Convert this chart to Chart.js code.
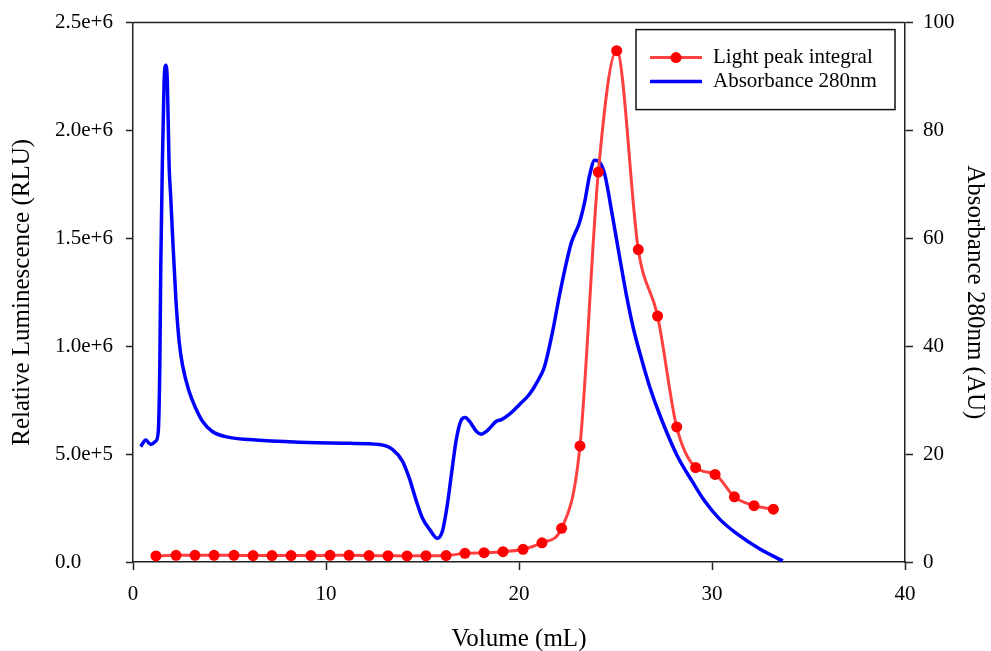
<!DOCTYPE html>
<html><head><meta charset="utf-8">
<script src="https://cdn.jsdelivr.net/npm/chart.js@4.4.0/dist/chart.umd.min.js"></script>
<style>html,body{margin:0;padding:0;background:#fff}#wrap{width:991px;height:651px}</style>
</head><body><div id="wrap"><canvas id="c" width="991" height="651"></canvas></div>
<script>
// Light peak integral (left axis, RLU)
const lightVolume = [1.19,2.23,3.21,4.20,5.23,6.22,7.20,8.19,9.22,10.21,11.19,12.23,13.21,14.20,15.18,16.22,17.20,18.19,19.17,20.21,21.19,22.21,23.16,24.11,25.06,26.18,27.18,28.17,29.15,30.16,31.16,32.18,33.18];
const lightRLU = [28000,31000,31000,31000,31000,30000,30000,30000,30000,31000,31000,30000,29000,28000,29000,30000,40000,43000,48000,59000,89000,156000,538000,1807000,2370000,1448000,1140000,626000,438000,406000,302000,261000,245000];

// Absorbance 280nm (right axis, AU)
const absVolume = [0.40,0.66,0.92,1.18,1.31,1.39,1.44,1.52,1.61,1.70,1.78,1.87,1.96,2.04,2.22,2.39,2.56,2.91,3.25,3.60,4.11,4.98,6.02,8.61,11.21,12.76,13.44,13.96,14.32,14.68,15.00,15.36,15.77,16.03,16.29,16.50,16.76,17.02,17.22,17.43,17.80,18.05,18.31,18.83,19.09,19.51,20.03,20.54,20.96,21.32,21.74,22.10,22.46,22.72,23.14,23.40,23.66,23.92,24.18,24.44,24.85,25.21,25.58,25.94,26.36,26.77,27.29,28.17,29.00,29.62,30.41,31.30,32.48,33.67];
const absAU = [21.4,22.6,21.8,22.4,24.2,36.6,55.1,73.6,88.9,92.1,88.9,73.6,67.3,61.2,48.8,40.9,36.6,31.6,28.5,26.1,24.2,23.1,22.7,22.2,22.0,21.8,20.9,18.7,15.5,11.3,8.1,6.1,4.4,5.7,10.7,16.3,22.9,26.4,26.8,26.1,24.2,23.7,24.2,26.1,26.4,27.4,29.2,31.1,33.5,36.2,42.7,49.5,55.6,59.3,63.0,66.7,71.7,74.5,74.1,71.9,64.0,56.6,49.2,43.1,37.5,32.5,27.3,19.9,14.8,11.3,7.9,5.2,2.4,0.2];

const leftTickLabels = ['0.0','5.0e+5','1.0e+6','1.5e+6','2.0e+6','2.5e+6'];
const seriesLabels = ['Light peak integral','Absorbance 280nm'];

const FONT = '"Liberation Serif", "Times New Roman", serif';
const zip = (xs, ys) => xs.map((x, i) => ({x: x, y: ys[i]}));

const framePlugin = {
  id: 'frame',
  afterDraw(chart) {
    const {ctx, chartArea: a} = chart;
    ctx.save();
    // top border
    ctx.strokeStyle = '#222';
    ctx.lineWidth = 1.5;
    ctx.beginPath();
    ctx.moveTo(a.left, a.top);
    ctx.lineTo(a.right, a.top);
    ctx.stroke();
    // left axis title
    ctx.fillStyle = '#000';
    ctx.font = '25px ' + FONT;
    ctx.textAlign = 'center';
    ctx.textBaseline = 'middle';
    ctx.translate(22, (a.top + a.bottom) / 2);
    ctx.rotate(-Math.PI / 2);
    ctx.fillText('Relative Luminescence (RLU)', 0, 0);
    ctx.restore();

    // legend
    const ds = chart.data.datasets;
    const bx = a.right - 269, by = a.top + 7, bw = 259, bh = 80;
    ctx.save();
    ctx.fillStyle = '#fff';
    ctx.fillRect(bx, by, bw, bh);
    ctx.strokeStyle = '#111';
    ctx.lineWidth = 1.5;
    ctx.strokeRect(bx, by, bw, bh);
    ds.forEach((d, i) => {
      const y = by + 28 + i * 24;
      ctx.strokeStyle = d.borderColor;
      ctx.lineWidth = d.borderWidth;
      ctx.beginPath();
      ctx.moveTo(bx + 14, y);
      ctx.lineTo(bx + 66, y);
      ctx.stroke();
      if (d.pointRadius > 0) {
        ctx.fillStyle = d.pointBackgroundColor;
        ctx.beginPath();
        ctx.arc(bx + 40, y, d.pointRadius, 0, Math.PI * 2);
        ctx.fill();
      }
      ctx.fillStyle = '#000';
      ctx.font = '21px ' + FONT;
      ctx.textAlign = 'left';
      ctx.textBaseline = 'middle';
      ctx.fillText(d.label, bx + 77, y);
    });
    ctx.restore();
  }
};

const tickFont = {family: FONT, size: 21};
const titleFont = {family: FONT, size: 25};

new Chart(document.getElementById('c'), {
  type: 'line',
  data: {
    datasets: [
      {
        label: seriesLabels[0],
        data: zip(lightVolume, lightRLU),
        yAxisID: 'y',
        borderColor: 'rgba(255,64,64,1)',
        borderWidth: 3,
        pointRadius: 5.5,
        pointBackgroundColor: '#ff0000',
        pointBorderWidth: 0,
        pointBorderColor: '#ff0000',
        cubicInterpolationMode: 'monotone',
        fill: false
      },
      {
        label: seriesLabels[1],
        data: zip(absVolume, absAU),
        yAxisID: 'y1',
        borderColor: '#0000ff',
        borderWidth: 3.5,
        pointRadius: 0,
        cubicInterpolationMode: 'monotone',
        fill: false
      }
    ]
  },
  options: {
    responsive: false,
    animation: false,
    devicePixelRatio: 1,
    layout: {padding: {left: 55, top: 22, right: 0, bottom: 0}},
    plugins: {legend: {display: false}, tooltip: {enabled: false}},
    scales: {
      x: {
        type: 'linear', min: 0, max: 40,
        afterFit(s) { s.height = 89; },
        ticks: {stepSize: 10, font: tickFont, color: '#000', padding: 12, maxRotation: 0},
        grid: {display: true, drawOnChartArea: false, drawTicks: true, tickLength: 8, tickColor: '#222', tickWidth: 1.5},
        border: {display: true, color: '#222', width: 1.5},
        title: {display: true, text: 'Volume (mL)', font: titleFont, color: '#000', padding: {top: 0, bottom: -3}}
      },
      y: {
        type: 'linear', position: 'left', min: 0, max: 2500000,
        afterFit(s) { s.width = 78; },
        ticks: {stepSize: 500000, font: tickFont, color: '#000', crossAlign: 'far',
          callback: (v) => leftTickLabels[Math.round(v / 500000)]},
        grid: {display: true, drawOnChartArea: false, drawTicks: true, tickLength: 7, tickColor: '#222', tickWidth: 1.5},
        border: {display: true, color: '#222', width: 1.5},
        title: {display: false}
      },
      y1: {
        type: 'linear', position: 'right', min: 0, max: 100,
        afterFit(s) { s.width = 86; },
        ticks: {stepSize: 20, font: tickFont, color: '#000', padding: 10},
        grid: {display: true, drawOnChartArea: false, drawTicks: true, tickLength: 8, tickColor: '#222', tickWidth: 1.5},
        border: {display: true, color: '#222', width: 1.5},
        title: {display: true, text: 'Absorbance 280nm (AU)', font: titleFont, color: '#000', padding: {top: 1, bottom: 0}}
      }
    }
  },
  plugins: [framePlugin]
});
</script>
</body></html>
